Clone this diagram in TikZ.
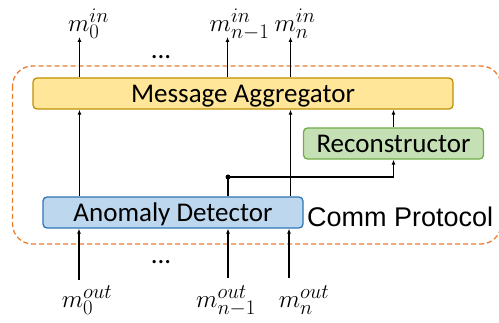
\documentclass[tikz,border=0pt]{standalone}
\usepackage{fontspec}
\setmainfont{Carlito}
\newfontfamily\arialfont{Liberation Sans}
\usetikzlibrary{arrows.meta}
\definecolor{aggfill}{HTML}{FFE699}
\definecolor{aggdraw}{HTML}{BF9000}
\definecolor{recfill}{HTML}{C5E0B4}
\definecolor{recdraw}{HTML}{70AD47}
\definecolor{adfill}{HTML}{BDD7EE}
\definecolor{addraw}{HTML}{2E75B6}
\definecolor{protorange}{HTML}{ED7D31}
\begin{document}
\begin{tikzpicture}[x=1pt,y=-1pt,
  box/.style={rectangle, rounded corners=4pt, line width=1.3pt, inner sep=0pt,
    minimum height=31pt, text height=19pt, text depth=0pt,
    font=\fontsize{27}{30}\selectfont},
  lab/.style={anchor=base, inner sep=0pt, font=\fontsize{28}{30}\selectfont},
  arr/.style={line width=1.2pt, -{Latex[length=5pt,width=4pt]}},
  wire/.style={line width=1.2pt},
  dotsnode/.style={anchor=base, inner sep=0pt, font=\fontsize{27}{30}\selectfont}]
\useasboundingbox (0,0) rectangle (499,323);

% protocol frame
\draw[protorange, dashed, line width=1.3pt, dash pattern=on 5pt off 3pt, rounded corners=20pt]
  (12.5,66) rectangle (501,244);

% boxes
\node[box, fill=aggfill, draw=aggdraw, minimum width=420pt] (MA) at (243,93.5) {Message Aggregator};
\node[box, fill=recfill, draw=recdraw, minimum width=180pt] (RC) at (393.5,143.5) {Reconstructor};
\node[box, fill=adfill, draw=addraw, minimum width=260pt] (AD) at (173,212.5) {Anomaly Detector};
\node[anchor=base west, inner sep=0pt, font=\arialfont\fontsize{27}{30}\selectfont] (CP) at (307,227) {Comm Protocol};

% labels
\node[lab] (i0) at (88.5,32) {$m_0^{in}$};
\node[lab] (in1) at (239.5,32) {$m_{n-1}^{in}$};
\node[lab] (in) at (295,32) {$m_n^{in}$};
\node[lab] (o0) at (87,308) {$m_0^{out}$};
\node[lab] (on1) at (226,308) {$m_{n-1}^{out}$};
\node[lab] (on) at (304,308) {$m_n^{out}$};

\node[dotsnode] (dt) at (161,59) {...};
\node[dotsnode] (db) at (161,264) {...};

% free ends
\coordinate (t0) at (79.5,37);
\coordinate (t1) at (227.5,37);
\coordinate (t2) at (290.5,37);
\coordinate (b0) at (79,280);
\coordinate (b1) at (228,278);
\coordinate (b2) at (289,278);
\coordinate (j) at (228,177);

% top outputs
\draw[arr] (MA.north -| t0) -- (t0);
\draw[arr] (MA.north -| t1) -- (t1);
\draw[arr] (MA.north -| t2) -- (t2);

% bottom inputs
\draw[arr] (b0) -- (AD.south -| b0);
\draw[arr] (b1) -- (AD.south -| b1);
\draw[arr] (b2) -- (AD.south -| b2);

% detector to aggregator
\draw[arr] (AD.north -| t0) -- (MA.south -| t0);
\draw[arr] (AD.north -| t2) -- (MA.south -| t2);

% branch to reconstructor
\draw[wire] (AD.north -| j) -- (j);
\draw[arr] (j) -| (RC.south);
\fill (j) circle (2.5pt);
\draw[arr] (RC.north) -- (MA.south -| RC.north);
\end{tikzpicture}
\end{document}
